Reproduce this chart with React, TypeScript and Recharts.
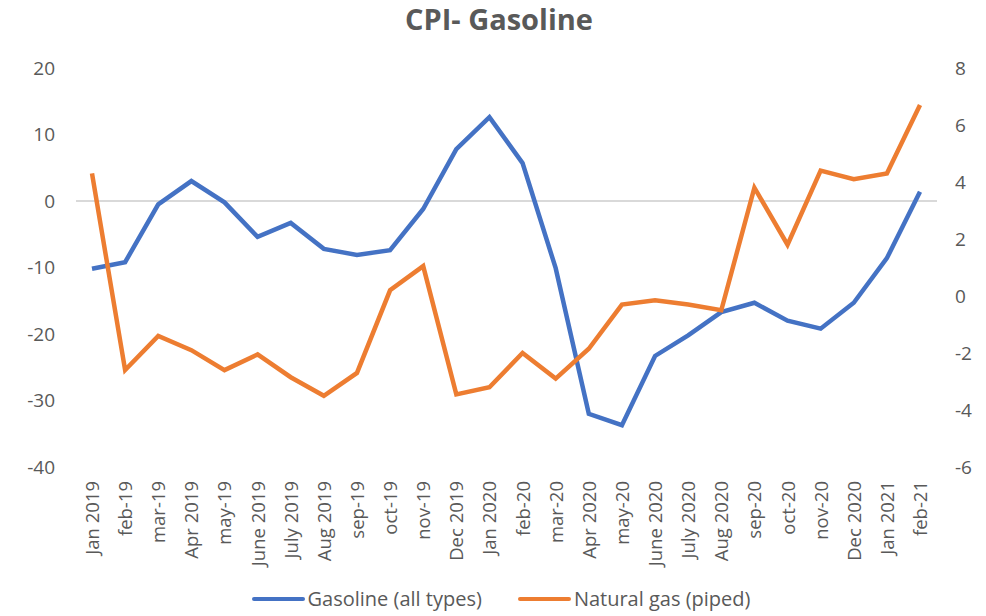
import { LineChart, Line, XAxis, YAxis, ReferenceLine, Legend } from 'recharts';

const months = [
  'Jan 2019', 'feb-19', 'mar-19', 'Apr 2019', 'may-19', 'June 2019', 'July 2019', 'Aug 2019',
  'sep-19', 'oct-19', 'nov-19', 'Dec 2019', 'Jan 2020', 'feb-20', 'mar-20', 'Apr 2020',
  'may-20', 'June 2020', 'July 2020', 'Aug 2020', 'sep-20', 'oct-20', 'nov-20', 'Dec 2020',
  'Jan 2021', 'feb-21',
];

// left axis
const gasoline = [
  -10.2, -9.2, -0.5, 3.0, -0.2, -5.4, -3.3, -7.2, -8.1, -7.4, -1.2, 7.8, 12.6,
  5.7, -10.1, -32.0, -33.7, -23.3, -20.2, -16.7, -15.3, -18.0, -19.2, -15.3, -8.6, 1.4,
];

// right axis
const naturalGas = [
  4.3, -2.6, -1.4, -1.9, -2.6, -2.05, -2.85, -3.5, -2.7, 0.2, 1.05, -3.45, -3.2,
  -2.0, -2.9, -1.85, -0.3, -0.15, -0.3, -0.5, 3.8, 1.8, 4.4, 4.1, 4.3, 6.7,
];

const leftTicks = [-40, -30, -20, -10, 0, 10, 20];
const rightTicks = [-6, -4, -2, 0, 2, 4, 6, 8];

const data = months.map((m, i) => ({
  month: m,
  gasoline: gasoline[i],
  naturalGas: naturalGas[i],
}));

const FONT = '"Open Sans", "DejaVu Sans", sans-serif';
const GREY = '#595959';

function MonthTick(props: any) {
  const { x, y, payload } = props;
  return (
    <text
      x={x}
      y={y}
      transform={`rotate(-90 ${x} ${y})`}
      dx={-6}
      dy={7}
      textAnchor="end"
      fill={GREY}
      fontSize={18.5}
      fontFamily={FONT}
    >
      {payload.value}
    </text>
  );
}

function LegendBox(props: any) {
  const items = props.payload || [];
  return (
    <div style={{ display: 'flex', justifyContent: 'center', paddingTop: 21, paddingLeft: 52 }}>
      {items.map((it: any) => (
        <div key={it.value} style={{ display: 'flex', alignItems: 'center', marginRight: 36 }}>
          <div style={{ width: 53, height: 4, borderRadius: 2, background: it.color, marginRight: 3 }} />
          <span style={{ fontFamily: FONT, fontSize: 20, color: GREY, lineHeight: '22px' }}>{it.value}</span>
        </div>
      ))}
    </div>
  );
}

export default function App() {
  return (
    <div style={{ position: 'absolute', left: 0, top: 0, width: 986, height: 616, background: '#fff' }}>
      <div
        style={{
          position: 'absolute',
          top: -1,
          left: 6,
          width: 986,
          textAlign: 'center',
          fontFamily: FONT,
          fontWeight: 700,
          fontSize: 29,
          color: GREY,
        }}
      >
        CPI- Gasoline
      </div>
      <LineChart width={986} height={616} data={data} margin={{ top: 68, right: 0, bottom: 0, left: 0 }}>
        <XAxis
          dataKey="month"
          interval={0}
          axisLine={false}
          tickLine={false}
          height={100}
          padding={{ left: 16, right: 17 }}
          tick={<MonthTick />}
        />
        <YAxis
          yAxisId="left"
          domain={[-40, 20]}
          ticks={leftTicks}
          width={76}
          axisLine={false}
          tickLine={false}
          tickMargin={15}
          tick={{ fill: GREY, fontSize: 19, fontFamily: FONT }}
        />
        <YAxis
          yAxisId="right"
          orientation="right"
          domain={[-6, 8]}
          ticks={rightTicks}
          width={49}
          axisLine={false}
          tickLine={false}
          tickMargin={12}
          tick={{ fill: GREY, fontSize: 19, fontFamily: FONT }}
        />
        <ReferenceLine yAxisId="left" y={0} stroke="#d9d9d9" strokeWidth={2} />
        <Legend verticalAlign="bottom" height={49} content={<LegendBox />} />
        <Line
          yAxisId="left"
          dataKey="gasoline"
          name="Gasoline (all types)"
          stroke="#4472C4"
          strokeWidth={4.5}
          dot={false}
          isAnimationActive={false}
        />
        <Line
          yAxisId="right"
          dataKey="naturalGas"
          name="Natural gas (piped)"
          stroke="#ED7D31"
          strokeWidth={4.5}
          dot={false}
          isAnimationActive={false}
        />
      </LineChart>
    </div>
  );
}
